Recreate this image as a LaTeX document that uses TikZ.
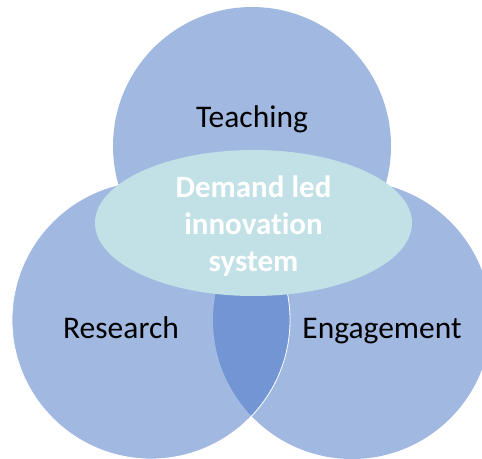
\documentclass[tikz,border=0pt]{standalone}
\usepackage{fontspec}
\setmainfont{Carlito}[Ligatures=NoCommon]
\usetikzlibrary{shapes.geometric}
\definecolor{vennblue}{HTML}{4472C4}
\definecolor{hubcyan}{HTML}{C1E1E6}

\begin{document}
\begin{tikzpicture}[x=1pt,y=-1pt,
  venn/.style={circle,minimum size=278pt,inner sep=0pt,fill=vennblue,fill opacity=0.5},
  areatext/.style={font=\fontsize{31.5}{37}\selectfont,text=black,anchor=base},
  hubtext/.style={font=\bfseries\fontsize{31}{37}\selectfont,text=white,align=center}]
\useasboundingbox (0,0) rectangle (482,458);
\clip (0,0) rectangle (482,458);

% three circles
\node[venn] (teaching) at (252,146) {};
\node[venn] (engagement) at (352,320) {};
\node[venn,draw=white,line width=0.8pt] (research) at (151,320) {};

% centre ellipse
\node[ellipse,minimum width=317pt,minimum height=146pt,inner sep=0pt,fill=hubcyan] (hub) at (253.5,223) {};
\node[hubtext] (hublbl) at (253.5,226) {Demand led\\innovation\\system};

\node[areatext] (teachlbl) at (252,127) {Teaching};
\node[areatext] (researchlbl) at (121,338) {Research};
\node[areatext] (engagelbl) at (382,338) {Engagement};
\end{tikzpicture}
\end{document}
